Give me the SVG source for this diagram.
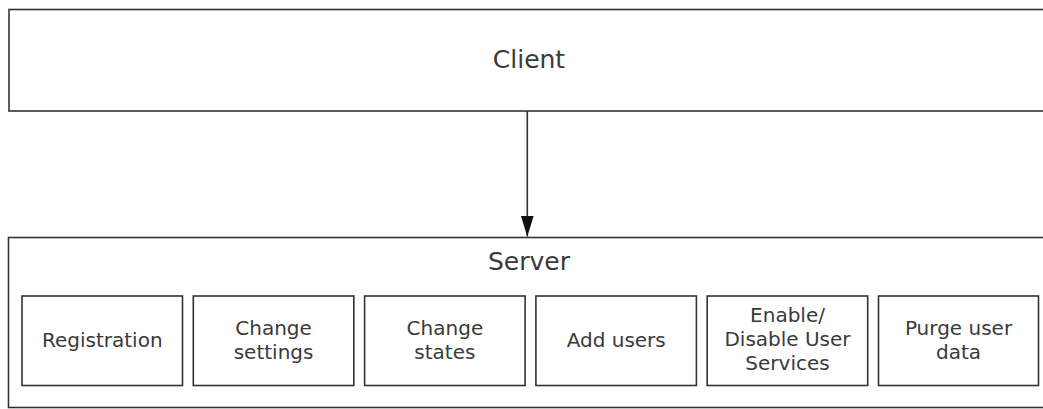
<svg xmlns="http://www.w3.org/2000/svg" width="1043" height="409" viewBox="0 0 1043 409">
<style>
.box{fill:#fff;stroke:#333;stroke-width:1.6}
.t{font-family:"DejaVu Sans","Verdana",sans-serif;fill:#3a3a3a;text-anchor:middle}
.big{font-size:25px}
.sm{font-size:20px}
.conn{stroke:#333;stroke-width:1.6;fill:none}
</style>
<defs>
<marker id="arr" markerWidth="21" markerHeight="13" refX="21" refY="6.5" orient="auto" markerUnits="userSpaceOnUse" viewBox="0 0 21 13">
<path d="M0,0 L21,6.5 L0,13 Z" fill="#111"/>
</marker>
</defs>
<g id="client">
<rect class="box" x="9" y="9.5" width="1045" height="101.5"/>
<text class="t big" x="529" y="68">Client</text>
</g>
<g id="server">
<rect class="box" x="8.5" y="237.5" width="1045" height="170"/>
<text class="t big" x="529" y="270">Server</text>
</g>
<g id="registration">
<rect class="box" x="22" y="296" width="160.5" height="89.5"/>
<text class="t sm" x="102.3" y="346.5">Registration</text>
</g>
<g id="change-settings">
<rect class="box" x="193.3" y="296" width="160.5" height="89.5"/>
<text class="t sm" x="273.6" y="335">Change</text>
<text class="t sm" x="273.6" y="358.5">settings</text>
</g>
<g id="change-states">
<rect class="box" x="364.6" y="296" width="160.5" height="89.5"/>
<text class="t sm" x="444.9" y="335">Change</text>
<text class="t sm" x="444.9" y="358.5">states</text>
</g>
<g id="add-users">
<rect class="box" x="535.9" y="296" width="160.5" height="89.5"/>
<text class="t sm" x="616.2" y="346.5">Add users</text>
</g>
<g id="enable-disable">
<rect class="box" x="707.2" y="296" width="160.5" height="89.5"/>
<text class="t sm" x="787.5" y="322">Enable/</text>
<text class="t sm" x="787.5" y="346">Disable User</text>
<text class="t sm" x="787.5" y="370">Services</text>
</g>
<g id="purge">
<rect class="box" x="878.5" y="296" width="160" height="89.5"/>
<text class="t sm" x="958.5" y="335">Purge user</text>
<text class="t sm" x="958.5" y="358.5">data</text>
</g>
<g id="connectors">
<line class="conn" x1="527.3" y1="111" x2="527.3" y2="236.5" marker-end="url(#arr)"/>
</g>
</svg>
